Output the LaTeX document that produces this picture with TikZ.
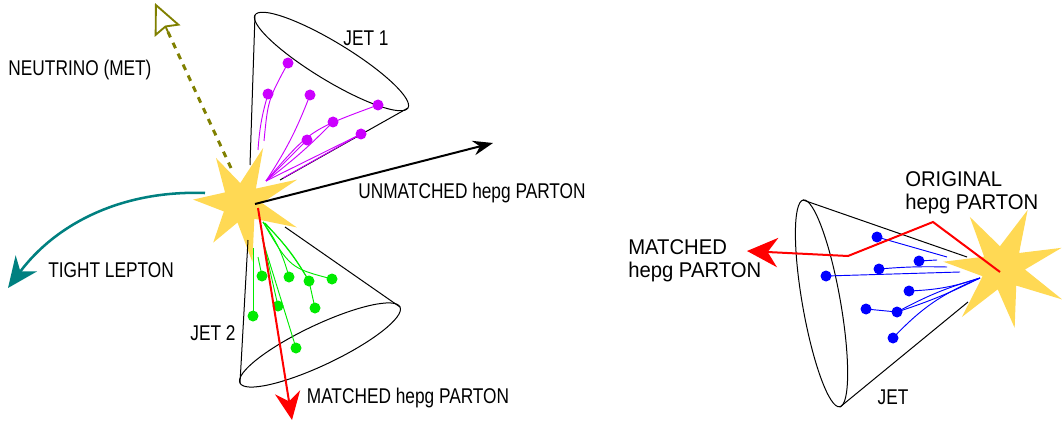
\documentclass[tikz,border=0pt]{standalone}
\usepackage{fontspec}
\setmainfont{Liberation Sans}
\newfontfamily\narrowsans[FakeStretch=0.81]{Liberation Sans}
\newfontfamily\widesans[FakeStretch=0.95]{Liberation Sans}
\usetikzlibrary{arrows.meta, calc}

\definecolor{burstyellow}{RGB}{255,217,84}
\definecolor{jetviolet}{RGB}{204,0,255}
\definecolor{jetgreen}{RGB}{0,235,0}
\definecolor{jetblue}{RGB}{0,0,255}
\definecolor{metolive}{RGB}{128,128,0}
\definecolor{lepteal}{RGB}{0,128,128}

\tikzset{
  lbl/.style={font=\narrowsans\fontsize{16}{17.25}\selectfont, inner sep=0pt},
  rlbl/.style={font=\widesans\fontsize{16}{17.25}\selectfont, inner sep=0pt, align=left, anchor=west},
  cone/.style={draw=black, line width=0.75pt},
  track/.style={line width=0.7pt},
}

\begin{document}
\begin{tikzpicture}[x=0.75pt, y=-0.75pt]
\useasboundingbox (0,0) rectangle (1062,424);

% the two collision points
\coordinate (hitL) at (242,203);
\coordinate (hitR) at (1003,268);

\fill[burstyellow, shift={(hitL)}] (-69:59) -- (-46:20) -- (-23:60) -- (0:20) -- (24:60) -- (52:20)
  -- (80:60) -- (103:20) -- (126:49) -- (155:20) -- (184:49) -- (212:20) -- (240:52) -- (265:20) -- cycle;
\fill[burstyellow, shift={(hitR)}] (-67:63) -- (-43:22) -- (-19:62) -- (4:22) -- (28:67) -- (53:22)
  -- (79:61) -- (104:22) -- (130:64) -- (158:22) -- (186:60) -- (211:22) -- (237:61) -- (262:22) -- cycle;

% ---- jet 1 ----
\coordinate (c1a) at (255,15);
\coordinate (c1b) at (408,108);
\coordinate (c1l) at (250,165);
\coordinate (c1r) at (280,180);
\coordinate (e1) at ($(c1a)!0.5!(c1b)$);
\draw[cone] (c1l) -- (c1a);
\draw[cone] (c1r) -- (c1b);
\draw[cone, rotate around={-31.3:(e1)}] (e1) ellipse (89.5 and 19);

\coordinate (v0) at (266,181);
\coordinate (v1) at (288,63);
\coordinate (v2) at (268,94);
\coordinate (v3) at (310,95);
\coordinate (v4) at (378,105);
\coordinate (v5) at (333,122);
\coordinate (v6) at (307,140);
\coordinate (v7) at (361,134);
\begin{scope}[track, jetviolet]
  \draw (258,150) to[bend left=6] (v2);
  \draw (264,141) .. controls (268,100) .. (v1);
  \draw (v0) to[bend right=6] (v3);
  \draw (v0) -- (v6);
  \draw (v0) to[bend right=4] (v5);
  \draw (v0) .. controls (310,130) .. (v4);
  \draw (v0) -- (v7);
  \draw (283,178) -- (v7);
  \foreach \p in {v1,v2,v3,v4,v5,v6,v7}
    \fill (\p) circle[radius=5.5];
\end{scope}

% ---- jet 2 ----
\coordinate (c2a) at (240,383);
\coordinate (c2b) at (400,307);
\coordinate (c2l) at (248,240);
\coordinate (c2r) at (285,227);
\coordinate (e2) at ($(c2a)!0.5!(c2b)$);
\draw[cone] (c2l) -- (c2a);
\draw[cone] (c2r) -- (c2b);
\draw[cone, rotate around={25.4:(e2)}] (e2) ellipse (88.6 and 20);

\coordinate (g0) at (263,222);
\coordinate (g1) at (262,276);
\coordinate (g2) at (289,277);
\coordinate (g3) at (309,281);
\coordinate (g4) at (332,279);
\coordinate (g5) at (278,306);
\coordinate (g6) at (315,308);
\coordinate (g7) at (253,316);
\coordinate (g8) at (296,348);
\begin{scope}[track, jetgreen]
  \draw (g0) .. controls (290,268) .. (g4);
  \draw (g0) to[bend left=8] (g3);
  \draw (265,223) to[bend left=6] (g3);
  \draw (g3) -- (g6);
  \draw (g0) to[bend left=10] (g2);
  \draw (258,257) -- (g1);
  \draw (263,240) -- (g5);
  \draw (253,248) -- (g7);
  \draw (262,238) -- (g8);
  \foreach \p in {g1,g2,g3,g4,g5,g6,g7,g8}
    \fill (\p) circle[radius=5.5];
\end{scope}

% ---- outgoing objects of the left event ----
\coordinate (unm0) at (255,204);
\coordinate (unm1) at (493,143);
\draw[line width=1.5pt, -{Stealth[length=15pt, width=11pt]}] (unm0) -- (unm1);

\coordinate (mat0) at (258,208);
\coordinate (mat1) at (292,420);
\draw[red, line width=1.5pt, -{Stealth[length=21pt, width=19pt]}] (mat0) -- (mat1);

\coordinate (lep0) at (205,193);
\coordinate (lep1) at (8,288);
\draw[lepteal, line width=1.9pt, -{Stealth[length=23pt, width=20pt]}]
  (lep0) .. controls (120,190) and (55,225) .. (lep1);

\coordinate (nu0) at (231,168);
\coordinate (nu1) at (168,32);
\coordinate (nutip) at (155,3);
\draw[metolive, line width=2.2pt, dash pattern=on 4.5pt off 4.5pt] (nu0) -- (nu1);
\draw[metolive, line width=1.4pt, -{Stealth[open, length=23pt, width=21pt, inset=3pt]}] (nu1) -- (nutip);

\node[lbl] (nulbl) at (80,70) {NEUTRINO (MET)};
\node[lbl] (j1lbl) at (366,38) {JET 1};
\node[lbl] (unmlbl) at (472,193) {UNMATCHED hepg PARTON};
\node[lbl] (leplbl) at (111,270) {TIGHT LEPTON};
\node[lbl] (j2lbl) at (213,333) {JET 2};
\node[lbl] (matlbl) at (408,398) {MATCHED hepg PARTON};

% ---- right jet ----
\coordinate (c3a) at (803,200);
\coordinate (c3b) at (840,407);
\coordinate (c3u) at (967,257);
\coordinate (c3d) at (968,302);
\coordinate (e3) at ($(c3a)!0.5!(c3b)$);
\draw[cone] (c3a) -- (c3u);
\draw[cone] (c3b) -- (c3d);
\draw[cone, rotate around={100:(e3)}] (e3) ellipse (105 and 19);

\coordinate (b0) at (980,278);
\coordinate (b1) at (877,237);
\coordinate (b2) at (919,261);
\coordinate (b3) at (879,269);
\coordinate (b4) at (826,276);
\coordinate (b5) at (909,291);
\coordinate (b6) at (866,309);
\coordinate (b7) at (897,312);
\coordinate (b8) at (893,338);
\begin{scope}[track, jetblue]
  \draw (b1) -- (947,257);
  \draw (b2) -- (937,260);
  \draw (b3) to[bend left=3] (947,267);
  \draw (b4) -- (960,272);
  \draw (b5) to[bend right=8] (b0);
  \draw (b7) to[bend left=6] (b0);
  \draw (b7) to[bend right=4] (b0);
  \draw (b8) to[bend left=12] (b0);
  \draw (b6) -- (b7);
  \foreach \p in {b1,b2,b3,b4,b5,b6,b7,b8}
    \fill (\p) circle[radius=5.5];
\end{scope}

\coordinate (orig0) at (1000,272);
\coordinate (kink1) at (933,222);
\coordinate (kink2) at (848,256);
\coordinate (orig1) at (747,251);
\draw[red, line width=1.5pt, -{Stealth[length=23pt, width=22pt]}]
  (orig0) -- (kink1) -- (kink2) -- (orig1);

\node[rlbl] (origlbl) at (905,193) {ORIGINAL\\hepg PARTON};
\node[rlbl] (rmatlbl) at (628,261) {MATCHED\\hepg PARTON};
\node[lbl] (jlbl) at (893,397) {JET};
\end{tikzpicture}
\end{document}
